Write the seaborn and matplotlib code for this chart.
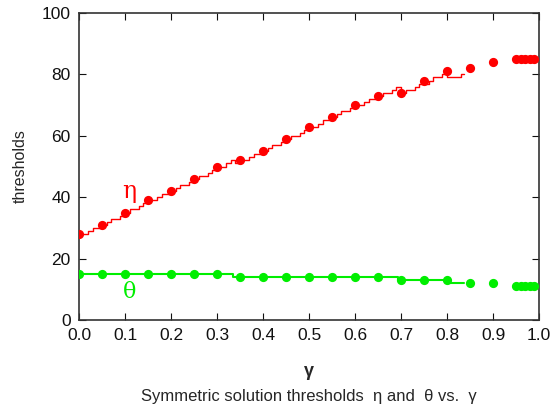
import matplotlib
matplotlib.use("Agg")
import matplotlib.pyplot as plt
import numpy as np
import pandas as pd
import seaborn as sns

# dots: computed symmetric thresholds
gamma_pts = [0.0, 0.05, 0.1, 0.15, 0.2, 0.25, 0.3, 0.35, 0.4, 0.45, 0.5, 0.55,
             0.6, 0.65, 0.7, 0.75, 0.8, 0.85, 0.9, 0.95, 0.96, 0.97, 0.98, 0.99]
eta_pts = [28, 31, 35, 39, 42, 46, 50, 52, 55, 59, 63, 66,
           70, 73, 74, 78, 81, 82, 84, 85, 85, 85, 85, 85]
theta_pts = [15, 15, 15, 15, 15, 15, 15, 14, 14, 14, 14, 14,
             14, 14, 13, 13, 13, 12, 12, 11, 11, 11, 11, 11]

# staircase curves
gamma_eta_line = [0.00, 0.01, 0.02, 0.03, 0.04, 0.05, 0.06, 0.07, 0.08, 0.09,
                  0.10, 0.11, 0.12, 0.13, 0.14, 0.15, 0.16, 0.17, 0.18, 0.19,
                  0.20, 0.21, 0.22, 0.23, 0.24, 0.25, 0.26, 0.27, 0.28, 0.29,
                  0.30, 0.31, 0.32, 0.33, 0.34, 0.35, 0.36, 0.37, 0.38, 0.39,
                  0.40, 0.41, 0.42, 0.43, 0.44, 0.45, 0.46, 0.47, 0.48, 0.49,
                  0.50, 0.51, 0.52, 0.53, 0.54, 0.55, 0.56, 0.57, 0.58, 0.59,
                  0.60, 0.61, 0.62, 0.63, 0.64, 0.65, 0.66, 0.67, 0.68, 0.69,
                  0.70, 0.71, 0.72, 0.73, 0.74, 0.75, 0.76, 0.77, 0.78, 0.79,
                  0.80, 0.81, 0.82, 0.83, 0.837]
eta_line = [28, 28, 29, 30, 30, 31, 32, 33, 33, 34,
            35, 36, 36, 37, 38, 39, 39, 40, 41, 41,
            42, 43, 44, 44, 45, 46, 47, 47, 48, 49,
            50, 50, 51, 52, 51, 52, 52, 53, 54, 54,
            55, 56, 57, 57, 58, 59, 60, 60, 61, 62,
            63, 63, 64, 65, 65, 66, 67, 68, 68, 69,
            70, 70, 71, 72, 72, 73, 74, 74, 75, 76,
            74, 75, 75, 76, 77, 77, 78, 79, 79, 80,
            79, 79, 79, 80, 80]
gamma_theta_line = [0.0, 0.334, 0.693, 0.802, 0.837]
theta_line = [15, 14, 13, 12, 12]

RED = "#ff0000"
GREEN = "#00ee00"

sns.set_theme(style="ticks")
plt.rcParams["font.family"] = ["Liberation Sans", "DejaVu Sans"]

fig = plt.figure(figsize=(5.53, 4.13), dpi=100)
ax = fig.add_axes([79 / 553, 1 - 320 / 413, 460 / 553, 307 / 413])

eta_df = pd.DataFrame({"gamma": gamma_eta_line, "thr": eta_line})
theta_df = pd.DataFrame({"gamma": gamma_theta_line, "thr": theta_line})
sns.lineplot(data=eta_df, x="gamma", y="thr", color=RED, lw=1.0,
             drawstyle="steps-post", estimator=None, sort=False, ax=ax)
sns.lineplot(data=theta_df, x="gamma", y="thr", color=GREEN, lw=1.5,
             drawstyle="steps-post", estimator=None, sort=False, ax=ax)
sns.scatterplot(x=gamma_pts, y=eta_pts, color=RED, s=44, linewidth=0, ax=ax,
                zorder=3)
sns.scatterplot(x=gamma_pts, y=theta_pts, color=GREEN, s=44, linewidth=0, ax=ax,
                zorder=3)

ax.set_xlim(0, 1)
ax.set_ylim(0, 100)
ax.set_xticks(np.arange(0, 1.01, 0.1))
ax.set_xticklabels([f"{v:.1f}" for v in np.arange(0, 1.01, 0.1)])
ax.set_yticks(range(0, 101, 20))
ax.tick_params(direction="in", length=5, width=0.8, top=True, right=True,
               labelsize=12.5, colors="#111111", pad=6)
for sp in ax.spines.values():
    sp.set_color("#333333")
    sp.set_linewidth(1.2)

ax.set_xlabel("γ", fontsize=13, fontweight="bold", labelpad=14)
ax.set_ylabel("thresholds", fontsize=11.5, labelpad=10)

ax.text(0.11, 42, "η", color=RED, fontsize=17, family="DejaVu Serif",
        ha="center", va="center")
ax.text(0.11, 9, "θ", color=GREEN, fontsize=16, family="DejaVu Serif",
        ha="center", va="center")

fig.text((79 + 539) / 2 / 553, 1 - 396 / 413,
         "Symmetric solution thresholds  η and  θ vs.  γ",
         ha="center", va="center", fontsize=12)

fig.savefig("out.png", dpi=100)
